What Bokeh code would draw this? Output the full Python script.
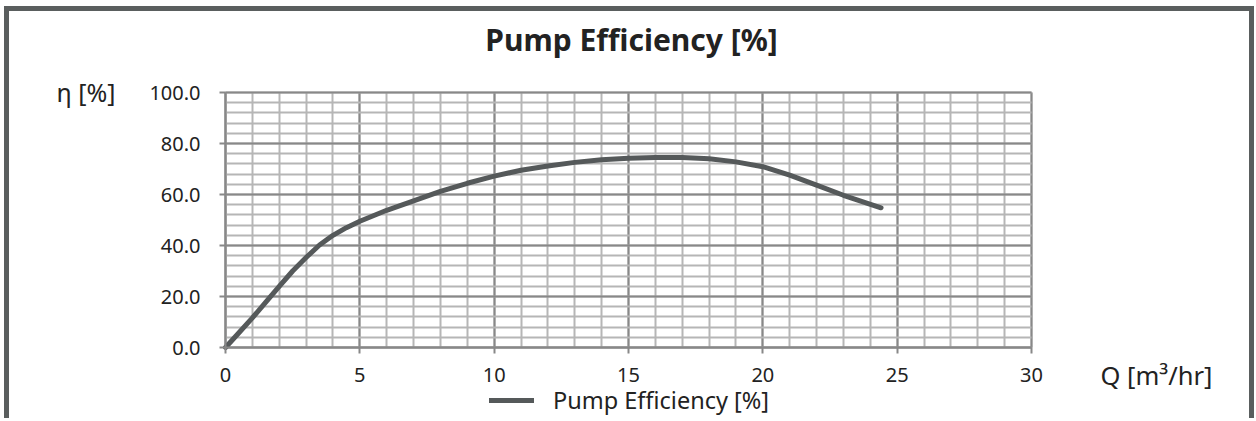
from bokeh.plotting import figure
from bokeh.models import (Range1d, SingleIntervalTicker, Legend, LegendItem,
                          Label, PrintfTickFormatter)
from bokeh.embed import file_html
from bokeh.resources import INLINE

# ---------------- data ----------------
flow_q = [0, 0.5, 1, 1.5, 2, 2.5, 3, 3.5, 4, 4.5, 5, 6, 7, 8, 9, 10, 11, 12,
          13, 14, 15, 16, 17, 18, 19, 20, 21, 22, 23, 24.4]
efficiency = [0, 5.8, 11.6, 17.8, 24, 30, 35.3, 40.2, 44, 47, 49.5, 53.8,
              57.5, 61.2, 64.4, 67.2, 69.5, 71.2, 72.6, 73.6, 74.2, 74.5,
              74.5, 74.0, 72.8, 70.9, 67.6, 63.7, 59.7, 54.8]
series_name = "Pump Efficiency [%]"
title_text = "Pump Efficiency [%]"
y_label = "η [%]"
x_label = "Q [m³/hr]"
x_limits = (0, 30)
y_limits = (0, 100)
x_tick_step = 5
y_tick_step = 20

# ---------------- style / layout ----------------
FONT = "Noto Sans"
TXT = "#222222"
LINE = "#55595a"
MAJ = "#888888"
MIN = "#b6b6b6"
BORDER = "#5a5e5e"

W, H = 1250, 412                 # canvas size (frame = whole canvas)
X0, X1 = 216, 1022               # canvas px of x_limits
Y0, Y1 = 336, 81                 # canvas px of y_limits
KX = (X1 - X0) / (x_limits[1] - x_limits[0])
KY = (Y0 - Y1) / (y_limits[1] - y_limits[0])


def dx(cx):
    return x_limits[0] + (cx - X0) / KX


def dy(cy):
    return y_limits[0] + (Y0 - cy) / KY


p = figure(width=W, height=H,
           x_range=Range1d(dx(0), dx(W)), y_range=Range1d(dy(H), dy(0)),
           output_backend="svg", toolbar_location=None,
           min_border=0, min_border_left=0, min_border_right=0,
           min_border_top=0, min_border_bottom=0)
p.styles = {"margin-left": "4px", "margin-top": "6px",
            "border-top": f"5px solid {BORDER}",
            "border-left": f"5px solid {BORDER}",
            "border-right": f"5px solid {BORDER}"}
p.background_fill_color = "white"
p.border_fill_color = "white"
p.outline_line_color = None

p.xaxis.ticker = SingleIntervalTicker(interval=x_tick_step, num_minor_ticks=5)
p.yaxis.ticker = SingleIntervalTicker(interval=y_tick_step, num_minor_ticks=5)
p.yaxis.formatter = PrintfTickFormatter(format="%.1f")
p.xaxis.fixed_location = y_limits[0]
p.yaxis.fixed_location = x_limits[0]
p.xaxis.bounds = x_limits
p.yaxis.bounds = y_limits

for ax in (p.xaxis, p.yaxis):
    ax.axis_line_color = MAJ
    ax.axis_line_width = 2
    ax.major_tick_line_color = MAJ
    ax.major_tick_line_width = 2
    ax.major_tick_out = 6
    ax.major_tick_in = 0
    ax.minor_tick_line_color = None
    ax.major_label_text_font = FONT
    ax.major_label_text_font_size = "20px"
    ax.major_label_text_color = TXT
p.xaxis.major_label_standoff = 14
p.yaxis.major_label_standoff = 19

eps = 1e-4
p.xgrid.bounds = (x_limits[0] - eps, x_limits[1] + eps)
p.ygrid.bounds = (y_limits[0] - eps, y_limits[1] + eps)
p.xgrid.cross_bounds = y_limits
p.ygrid.cross_bounds = x_limits
for g in (p.xgrid, p.ygrid):
    g.grid_line_color = MAJ
    g.grid_line_width = 2
    g.minor_grid_line_color = MIN
    g.minor_grid_line_width = 2

r = p.line(flow_q, efficiency, line_color=LINE, line_width=5,
           line_cap="round", line_join="round")

legend = Legend(items=[LegendItem(label=series_name, renderers=[r])],
                location=(480, 7), orientation="horizontal",
                padding=0, margin=0, spacing=0, border_line_color=None,
                background_fill_alpha=0, glyph_width=45, glyph_height=28,
                label_standoff=19, label_height=28,
                label_text_font=FONT, label_text_font_size="23.5px",
                label_text_color=TXT)
p.add_layout(legend, "center")

p.add_layout(Label(x=dx(622), y=dy(27.5), text=title_text,
                   text_align="center", text_baseline="alphabetic",
                   text_font=FONT, text_font_style="bold",
                   text_font_size="30px", text_color=TXT))
p.add_layout(Label(x=dx(47), y=dy(80), text=y_label, text_align="left",
                   text_baseline="alphabetic", text_font=FONT,
                   text_font_size="25px", text_color=TXT))
p.add_layout(Label(x=dx(1091), y=dy(363), text=x_label, text_align="left",
                   text_baseline="alphabetic", text_font=FONT,
                   text_font_size="25.5px", text_color=TXT))

open("out.html", "w").write(file_html(p, INLINE))
